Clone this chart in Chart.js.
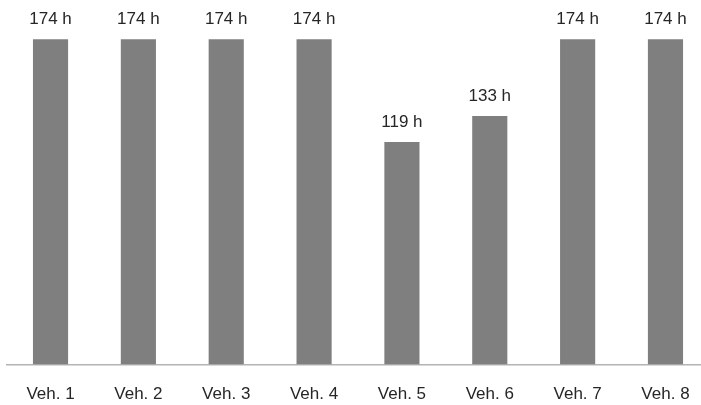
<!DOCTYPE html>
<html>
<head>
<meta charset="utf-8">
<script src="https://cdn.jsdelivr.net/npm/chart.js@4/dist/chart.umd.min.js"></script>
<style>
  html, body { margin: 0; padding: 0; background: #ffffff; overflow: hidden; }
  #wrap { width: 712px; height: 405px; }
</style>
</head>
<body>
<div id="wrap"><canvas id="chart" width="712" height="405"></canvas></div>
<script>
// Operating hours per vehicle
const vehicles = ['Veh. 1', 'Veh. 2', 'Veh. 3', 'Veh. 4', 'Veh. 5', 'Veh. 6', 'Veh. 7', 'Veh. 8'];
const hours = [174, 174, 174, 174, 119, 133, 174, 174];
const unit = ' h';

const FONT = '"Liberation Sans", Arial, sans-serif';
const TEXT_COLOR = '#262626';

// Writes the value above each bar
const valueLabels = {
  id: 'valueLabels',
  afterDatasetsDraw(chart) {
    const ctx = chart.ctx;
    const meta = chart.getDatasetMeta(0);
    ctx.save();
    ctx.font = '17px ' + FONT;
    ctx.fillStyle = TEXT_COLOR;
    ctx.textAlign = 'center';
    ctx.textBaseline = 'middle';
    meta.data.forEach((bar, i) => {
      const v = chart.data.datasets[0].data[i];
      ctx.fillText(v + unit, bar.x, bar.y - 20);
    });
    ctx.restore();
  }
};

new Chart(document.getElementById('chart'), {
  type: 'bar',
  data: {
    labels: vehicles,
    datasets: [{
      data: hours,
      backgroundColor: '#7f7f7f',
      borderWidth: 0,
      categoryPercentage: 0.8,
      barPercentage: 0.5
    }]
  },
  options: {
    responsive: false,
    animation: false,
    layout: { padding: { left: 6.6, right: 2.6, top: 0, bottom: 0 } },
    plugins: {
      legend: { display: false },
      tooltip: { enabled: false }
    },
    scales: {
      x: {
        offset: true,
        grid: { display: false, drawTicks: false },
        border: { display: true, color: '#b4b4b4', width: 1.5 },
        ticks: {
          color: TEXT_COLOR,
          font: { family: FONT, size: 17 },
          padding: 20,
          maxRotation: 0,
          autoSkip: false
        },
        // keep the category band a fixed height below the baseline
        afterFit(scale) { scale.height = 40.4; }
      },
      y: {
        display: false,
        min: 0,
        max: 195
      }
    }
  },
  plugins: [valueLabels]
});
</script>
</body>
</html>
